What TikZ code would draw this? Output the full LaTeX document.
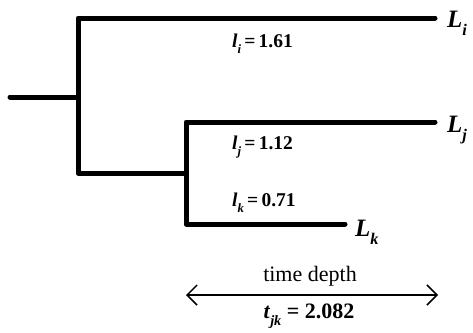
\documentclass[tikz,border=0pt]{standalone}
\usepackage{fontspec}
\setmainfont{Liberation Serif}
\usetikzlibrary{arrows.meta}
\newcommand{\lowsub}[1]{\raisebox{-0.35em}{\scalebox{0.65}{#1}}}
\begin{document}
\begin{tikzpicture}[x=1pt,y=-1pt,
  branch/.style={line width=5pt,line cap=round,line join=round},
  leaf/.style={font=\fontsize{25}{27}\selectfont\bfseries\itshape,anchor=west,inner sep=0pt},
  blabel/.style={font=\fontsize{19.5}{21}\selectfont\bfseries,anchor=west,inner sep=0pt},
  plain/.style={font=\fontsize{22}{24}\selectfont,inner sep=0pt}]
\useasboundingbox (0,0) rectangle (473,332);
\coordinate (root) at (10,97);
\coordinate (n1) at (78,97);
\coordinate (n1t) at (78,18);
\coordinate (n1b) at (78,173);
\coordinate (n2) at (186,173);
\coordinate (n2t) at (186,122);
\coordinate (n2b) at (186,224);
\coordinate (ti) at (435,18);
\coordinate (tj) at (435,122);
\coordinate (tk) at (345,224);
\node[leaf,anchor=base west] (Li) at (447,27) {L\lowsub{i}};
\node[leaf,anchor=base west] (Lj) at (447,132) {L\lowsub{j}};
\node[leaf,anchor=base west] (Lk) at (355,236) {L\lowsub{k}};
\draw[branch] (root) -- (n1);
\draw[branch] (ti) -- (n1t) -- (n1b) -- (n2);
\draw[branch] (tj) -- (n2t) -- (n2b) -- (tk);
\node[blabel,anchor=base west] (li) at (232,47) {\textit{l}\lowsub{\textit{i}}\,=\,1.61};
\node[blabel,anchor=base west] (lj) at (232,149) {\textit{l}\lowsub{\textit{j}}\,=\,1.12};
\node[blabel,anchor=base west] (lk) at (232,206) {\textit{l}\lowsub{\textit{k}}\,=\,0.71};
\node[plain] (td) at (310,276) {time depth};
\coordinate (aL) at (186,295);
\coordinate (aR) at (438,295);
\draw[line width=1.5pt,{Straight Barb[length=10pt,width=20pt]}-{Straight Barb[length=10pt,width=20pt]}] (aL) -- (aR);
\node[plain,font=\fontsize{22}{24}\selectfont\bfseries,anchor=base] (tjk) at (309,318) {\textit{t}\lowsub{\textit{jk}} = 2.082};
\end{tikzpicture}
\end{document}
